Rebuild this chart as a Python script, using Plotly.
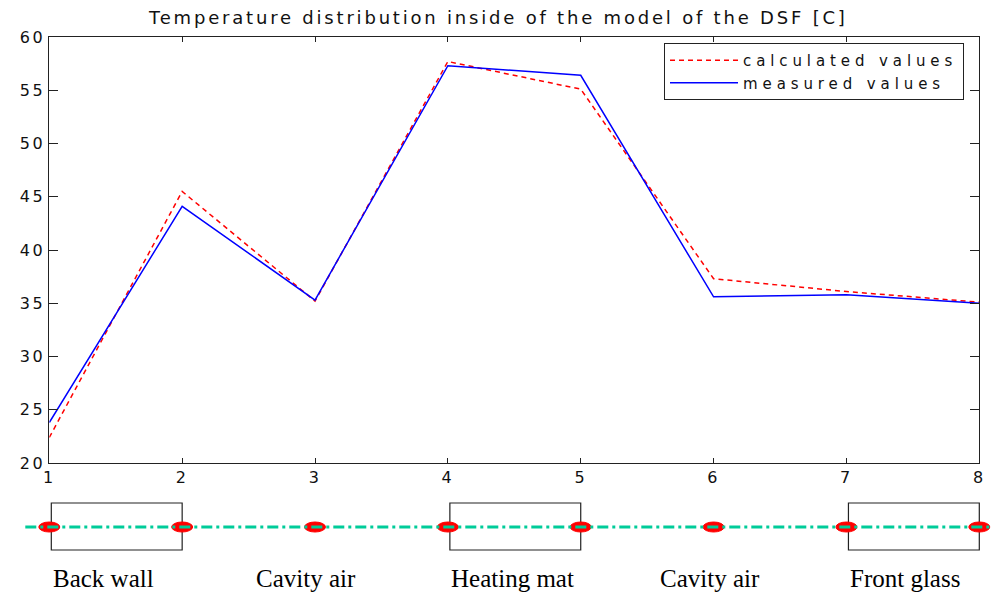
import plotly.graph_objects as go

# ---------------- data ----------------
positions = [1, 2, 3, 4, 5, 6, 7, 8]
calculated = [22.4, 45.5, 35.2, 57.7, 55.1, 37.3, 36.1, 35.1]
measured = [23.8, 44.1, 35.3, 57.3, 56.4, 35.6, 35.8, 35.0]
y_ticks = [20, 25, 30, 35, 40, 45, 50, 55, 60]
x_ticks = [1, 2, 3, 4, 5, 6, 7, 8]
layer_names = ["Back wall", "Cavity air", "Heating mat", "Cavity air", "Front glass"]
layer_starts = [1, 2, 4, 5, 7]
layer_ends = [2, 4, 5, 7, 8]
layer_solid = [True, False, True, False, True]
label_x = [1.41, 2.93, 4.49, 5.97, 7.44]
title_text = "Temperature distribution inside of the model of the DSF [C]"

# ---------------- layout constants ----------------
W, H = 991, 599
x_left_px, x_right_px = 49.3, 979.3
y_top_px, y_bot_px = 37, 463
px_per_unit = (x_right_px - x_left_px) / (positions[-1] - positions[0])
x2_min = positions[0] - x_left_px / px_per_unit
x2_max = positions[-1] + (W - x_right_px) / px_per_unit
sch_h = 120  # schematic strip height in px (bottom of the page)
line_y = H - 527
box_y0, box_y1 = H - 550, H - 503
label_y = H - 578


def spaced(t, ls):
    return f'<span style="letter-spacing:{ls}px">{t}</span>'


TICKFONT = dict(family="DejaVu Sans", size=16, color="#111")

fig = go.Figure()

fig.add_trace(go.Scatter(
    x=positions, y=calculated, mode="lines",
    name=spaced("calculated values", 4.9),
    line=dict(color="#ff0000", width=1.5, dash="5px,4px"),
    xaxis="x", yaxis="y"))
fig.add_trace(go.Scatter(
    x=positions, y=measured, mode="lines",
    name=spaced("measured values", 4.9),
    line=dict(color="#0000ff", width=1.5),
    xaxis="x", yaxis="y"))

# schematic: dash-dot centre line
fig.add_trace(go.Scatter(
    x=[positions[0] - 24 / px_per_unit, x2_max], y=[line_y, line_y],
    mode="lines", showlegend=False, hoverinfo="skip",
    line=dict(color="#00cc99", width=3, dash="11px,4px,3px,4px"),
    xaxis="x2", yaxis="y2"))

shapes = []
# boxes for solid layers
for s, e, solid in zip(layer_starts, layer_ends, layer_solid):
    if solid:
        shapes.append(dict(type="rect", xref="x2", yref="y2",
                           x0=s + 2 / px_per_unit, x1=e, y0=box_y0, y1=box_y1,
                           line=dict(color="#222", width=1.2), layer="below"))
# red elliptical sensor markers
for p in positions:
    shapes.append(dict(type="circle", xref="x2", yref="y2",
                       x0=p - 10.5 / px_per_unit, x1=p + 10.5 / px_per_unit,
                       y0=line_y - 5, y1=line_y + 5,
                       fillcolor="#ff0000", line=dict(color="#ff0000", width=1),
                       layer="below"))

annotations = []
for name, lx in zip(layer_names, label_x):
    annotations.append(dict(x=lx, y=label_y, xref="x2", yref="y2", text=name,
                            showarrow=False, xanchor="center", yanchor="middle",
                            font=dict(family="Liberation Serif", size=25, color="#000")))
annotations.append(dict(x=498 / W, y=1 - 17 / H, xref="paper", yref="paper",
                        text=spaced(title_text, 2.8), showarrow=False,
                        xanchor="center", yanchor="middle",
                        font=dict(family="DejaVu Sans", size=18, color="#111")))

fig.update_layout(
    width=W, height=H,
    margin=dict(l=0, r=0, t=0, b=0, pad=0),
    paper_bgcolor="white", plot_bgcolor="white",
    showlegend=True,
    legend=dict(x=964 / W, y=1 - 43 / H, xanchor="right", yanchor="top",
                bgcolor="white", bordercolor="#222", borderwidth=1,
                font=dict(family="DejaVu Sans", size=15, color="#111"),
                itemwidth=68, tracegroupgap=0),
    xaxis=dict(domain=[x_left_px / W, x_right_px / W], range=[positions[0], positions[-1]],
               tickvals=x_ticks, ticktext=[spaced(str(v), 2.5) for v in x_ticks],
               ticks="inside", ticklen=5, tickcolor="#222",
               showline=True, linecolor="#222", linewidth=1, mirror="ticks",
               showgrid=False, zeroline=False, tickfont=TICKFONT, anchor="y",
               automargin=False),
    yaxis=dict(domain=[1 - y_bot_px / H, 1 - y_top_px / H], range=[20, 60],
               tickvals=y_ticks, ticktext=[spaced(str(v), 2.5) for v in y_ticks],
               ticks="inside", ticklen=9, tickcolor="#222",
               showline=True, linecolor="#222", linewidth=1, mirror="ticks",
               showgrid=False, zeroline=False, tickfont=TICKFONT, anchor="x",
               automargin=False),
    xaxis2=dict(domain=[0, 1], range=[x2_min, x2_max], visible=False, anchor="y2",
                automargin=False),
    yaxis2=dict(domain=[0, sch_h / H], range=[0, sch_h], visible=False, anchor="x2",
                automargin=False),
    shapes=shapes,
    annotations=annotations,
)

fig.write_html("out.html")
